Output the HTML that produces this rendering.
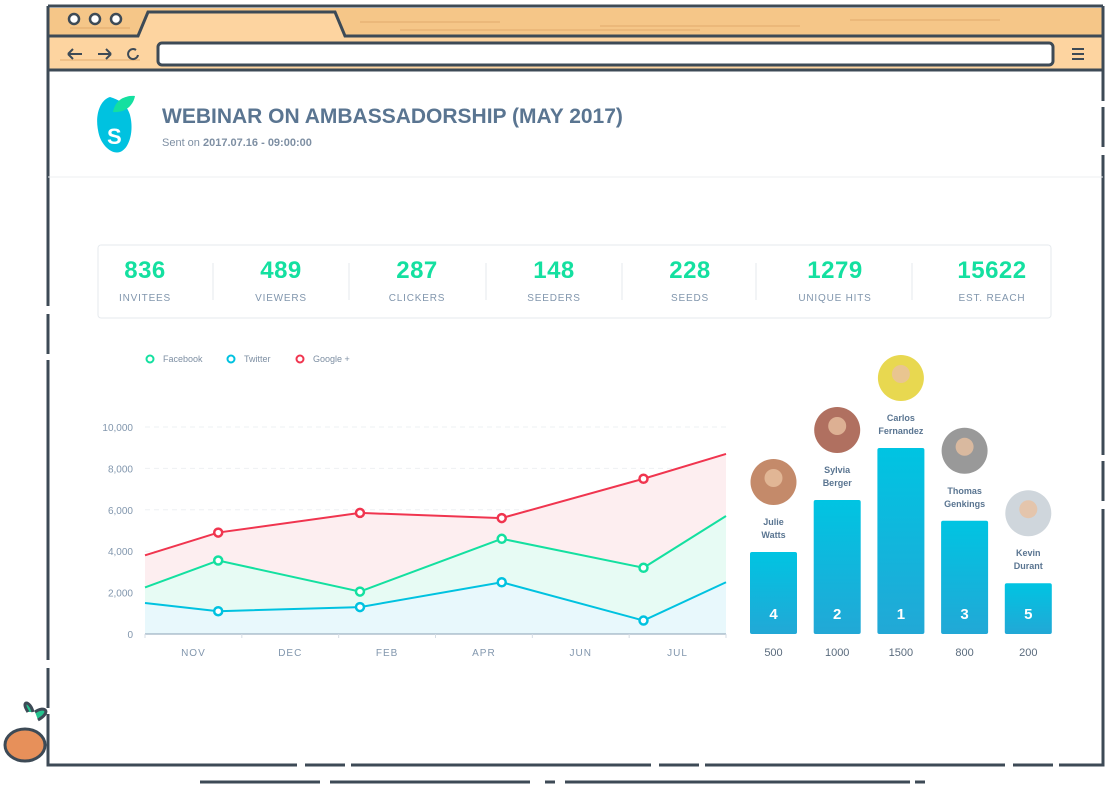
<!DOCTYPE html>
<html><head><meta charset="utf-8"><style>
body{margin:0;width:1106px;height:785px;background:#fff;font-family:"Liberation Sans",sans-serif;position:relative;overflow:hidden}
.a{position:absolute}
.stat{position:absolute;top:257px;text-align:center;width:130px}
.stat .n{color:#14e0a0;font-weight:bold;font-size:24px;letter-spacing:0.5px}
.stat .l{color:#8196ad;font-size:10px;letter-spacing:0.8px;margin-top:8px}
</style></head><body>
<svg class="a" style="left:0;top:0" width="1106" height="785">
<rect x="48" y="8" width="1055" height="62" fill="#fdd4a0"/>
<rect x="48" y="8" width="1055" height="28" fill="#f5c688"/>
<path d="M48 36 H138 L148 12 H335 L345 36 H1103" stroke="#3d4a56" stroke-width="3" fill="#fdd4a0"/>
<path d="M48 6 H1103 M48 70 H1103" stroke="#3d4a56" stroke-width="3"/>
<path d="M48 6 V765 H1103 V6" stroke="#3d4a56" stroke-width="3" fill="none" stroke-dasharray="300 8 40 6"/>
<g stroke="#e0a86a" stroke-width="1.5" opacity="0.6"><path d="M70 28 H130 M360 22 H500 M600 26 H800 M850 20 H1000 M60 60 H140 M400 30 H700"/></g>
<circle cx="74" cy="19" r="5" fill="#fff" stroke="#3d4a56" stroke-width="2.5"/>
<circle cx="95" cy="19" r="5" fill="#fff" stroke="#3d4a56" stroke-width="2.5"/>
<circle cx="116" cy="19" r="5" fill="#fff" stroke="#3d4a56" stroke-width="2.5"/>
<rect x="158" y="43" width="895" height="22" rx="4" fill="#fff" stroke="#3d4a56" stroke-width="3"/>
<path d="M68 54 H82 M68 54 L73 49 M68 54 L73 59 M98 54 H111 M111 54 L106 49 M111 54 L106 59" stroke="#3d4a56" stroke-width="2" fill="none"/>
<path d="M136 50 A5 5 0 1 0 138 55" stroke="#3d4a56" stroke-width="2" fill="none"/>
<path d="M1072 49 H1084 M1072 54 H1084 M1072 59 H1084" stroke="#3d4a56" stroke-width="2"/>
<path d="M200 782 H320 M330 782 H530 M545 782 H555 M565 782 H910 M915 782 H925" stroke="#3d4a56" stroke-width="3"/>
<line x1="48" y1="177" x2="1103" y2="177" stroke="#eceff2"/>
<rect x="98" y="245" width="953" height="73" rx="3" fill="#fff" stroke="#e6eaee"/>
<g stroke="#e6eaee"><path d="M213 263 V300 M349 263 V300 M486 263 V300 M622 263 V300 M756 263 V300 M912 263 V300"/></g>
<path d="M110 97 C100 100 95 115 98 130 C100 145 112 155 120 152 C130 148 134 130 130 115 C127 105 120 100 110 97Z" fill="#00c2e0"/>
<path d="M113 112 C115 100 125 95 135 96 C133 106 125 113 113 112Z" fill="#14e0a0"/>
<text x="107" y="144" font-family="Liberation Sans" font-weight="bold" font-size="22" fill="#fff">S</text>
<g><ellipse cx="25" cy="745" rx="20" ry="16" fill="#e7905a" stroke="#3d4a56" stroke-width="3"/><path d="M28 712 C20 700 30 700 33 712 M35 712 C45 705 52 712 38 720" stroke="#3d4a56" stroke-width="3" fill="#25c48f"/></g>
</svg>
<div class="a" style="left:162px;top:105px;font-size:21px;font-weight:bold;color:#5a7591;letter-spacing:0">WEBINAR ON AMBASSADORSHIP (MAY 2017)</div>
<div class="a" style="left:162px;top:137px;font-size:11px;color:#7e8fa3">Sent on <b>2017.07.16 - 09:00:00</b></div>
<div class="stat" style="left:80px"><div class="n">836</div><div class="l">INVITEES</div></div>
<div class="stat" style="left:216px"><div class="n">489</div><div class="l">VIEWERS</div></div>
<div class="stat" style="left:352px"><div class="n">287</div><div class="l">CLICKERS</div></div>
<div class="stat" style="left:489px"><div class="n">148</div><div class="l">SEEDERS</div></div>
<div class="stat" style="left:625px"><div class="n">228</div><div class="l">SEEDS</div></div>
<div class="stat" style="left:770px"><div class="n">1279</div><div class="l">UNIQUE HITS</div></div>
<div class="stat" style="left:927px"><div class="n">15622</div><div class="l">EST. REACH</div></div>
<svg id="chart" class="a" style="left:0;top:0" width="1106" height="785"></svg>
<script>
const months=["NOV","DEC","FEB","APR","JUN","JUL"];
const yTicks=[0,2000,4000,6000,8000,10000];
const red=[3800,4900,5850,5600,7500,8700];
const green=[2250,3550,2050,4600,3200,5700];
const blue=[1500,1100,1300,2500,650,2500];
const pointX=[0,0.126,0.37,0.614,0.858,1];
const names=["Julie Watts","Sylvia Berger","Carlos Fernandez","Thomas Genkings","Kevin Durant"];
const ranks=[4,2,1,3,5];
const scores=[500,1000,1500,800,200];
const NS="http://www.w3.org/2000/svg",svg=document.getElementById("chart");
const X0=145,X1=726,Y0=634,Y1=427;
const xs=t=>X0+t*(X1-X0), ys=v=>Y0-v/10000*(Y0-Y1);
function el(t,a,p){const e=document.createElementNS(NS,t);for(const k in a)e.setAttribute(k,a[k]);(p||svg).appendChild(e);return e;}
yTicks.forEach(v=>{
 if(v>0){const g=el("line",{x1:X0,x2:X1,y1:ys(v),y2:ys(v),stroke:"#eef0f3","stroke-dasharray":"5 4"});
 
 }
 const t=el("text",{x:133,y:ys(v)+4,"text-anchor":"end","font-size":10,fill:"#8196ad","font-family":"Liberation Sans"});t.textContent=v.toLocaleString("en-US");
 
 
});
const series=[[red,"#f0354f","#fdeef0"],[green,"#14e0a0","#e7fbf4"],[blue,"#00c2e0","#e8f8fc"]];
series.forEach(([d,c,f],i)=>{
 const pts=d.map((v,j)=>xs(pointX[j])+","+ys(v)).join(" ");
 const a=el("polygon",{points:xs(0)+","+Y0+" "+pts+" "+xs(1)+","+Y0,fill:f});
 
 
});
series.forEach(([d,c],i)=>{
 const l=el("polyline",{points:d.map((v,j)=>xs(pointX[j])+","+ys(v)).join(" "),fill:"none",stroke:c,"stroke-width":2});
 
 
 d.forEach((v,j)=>{if(j==0||j==d.length-1)return;
  const p=el("circle",{cx:xs(pointX[j]),cy:ys(v),r:4,fill:"#fff",stroke:c,"stroke-width":2.5});
  
  });
});
const ax=el("line",{x1:X0,x2:X1,y1:Y0,y2:Y0,stroke:"#8aa0b5","stroke-width":1});


for(let i=0;i<=6;i++){const tk=el("line",{x1:xs(i/6),x2:xs(i/6),y1:Y0,y2:Y0+4,stroke:"#d5dde5"});
 
 }
months.forEach((m,i)=>{const t=el("text",{x:xs((i+0.5)/6),y:656,"text-anchor":"middle","font-size":10,fill:"#8196ad","letter-spacing":1,"font-family":"Liberation Sans"});t.textContent=m;
 
 });
[["Facebook","#14e0a0",150],["Twitter","#00c2e0",231],["Google +","#f0354f",300]].forEach(([n,c,x])=>{
 const g=el("g",{});
 
 
 el("circle",{cx:x,cy:359,r:3.5,fill:"#fff",stroke:c,"stroke-width":2},g);
 const t=el("text",{x:x+13,y:362,"font-size":9,fill:"#7e8fa3","font-family":"Liberation Sans"},g);t.textContent=n;
});
const defs=el("defs",{});
const lg=el("linearGradient",{id:"bg",x1:0,y1:0,x2:0,y2:1},defs);
el("stop",{offset:0,"stop-color":"#00c4e2"},lg);el("stop",{offset:1,"stop-color":"#22a8d6"},lg);
const hb=v=>30+v*0.104;
const avCol=["#c48a6a","#b07060","#e8d850","#999","#cfd6dc"];
scores.forEach((v,i)=>{
 const x=750+i*63.7,w=47,top=Y0-hb(v);
 const b=el("rect",{x:x,y:top,width:w,height:hb(v),rx:2,fill:"url(#bg)"});
 
 
 const r=el("text",{x:x+w/2,y:Y0-15,"text-anchor":"middle","font-size":15,"font-weight":"bold",fill:"#fff","font-family":"Liberation Sans"});r.textContent=ranks[i];
 
 
 const s=el("text",{x:x+w/2,y:656,"text-anchor":"middle","font-size":11,fill:"#5a6b7d","font-family":"Liberation Sans"});s.textContent=v;
 
 
 names[i].split(" ").forEach((p,k)=>{const t=el("text",{x:x+w/2,y:top-27+k*13,"text-anchor":"middle","font-size":9,"font-weight":"bold",fill:"#5a7591","font-family":"Liberation Sans"});t.textContent=p;
  
  });
 const av=el("circle",{cx:x+w/2,cy:top-70,r:23,fill:avCol[i]});
 
 
 el("circle",{cx:x+w/2,cy:top-74,r:9,fill:"#e8c0a0",opacity:0.8});
});
</script>
</body></html>
